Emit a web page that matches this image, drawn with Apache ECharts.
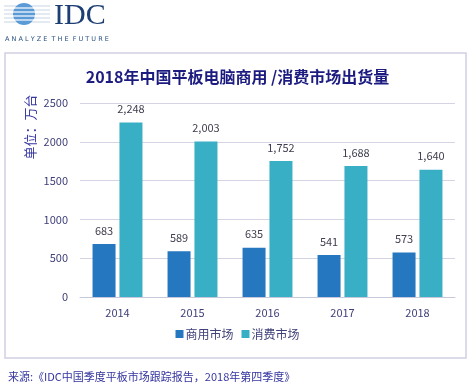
<!DOCTYPE html>
<html><head><meta charset="utf-8">
<script src="https://cdn.jsdelivr.net/npm/echarts@6/dist/echarts.min.js"></script>
<style>html,body{margin:0;padding:0;background:#fff}#c{width:475px;height:391px}</style>
</head><body><div id="c"></div>
<script>
const categories = ['2014', '2015', '2016', '2017', '2018'];
const commercial = [683, 589, 635, 541, 573];
const consumer = [2248, 2003, 1752, 1688, 1640];
const seriesNames = ['商用市场', '消费市场'];
const yTicks = [0, 500, 1000, 1500, 2000, 2500];

const chart = echarts.init(document.getElementById('c'));
const font = '"Noto Sans CJK SC", "Noto Sans", sans-serif';
const stripes = [];
[6, 10, 14, 18, 22].forEach(y => {
  stripes.push({type: 'line', shape: {x1: 4, y1: y, x2: 50, y2: y}, style: {stroke: '#c8d4e4', lineWidth: 1}});
});
chart.setOption({
  textStyle: {fontFamily: font},
  title: {text: '2018年中国平板电脑商用 /消费市场出货量', left: 'center', top: 64,
    textStyle: {fontSize: 16, fontWeight: 'bold', color: '#1c1c80', fontFamily: font}},
  graphic: [
    {type: 'rect', shape: {x: 5, y: 53, width: 461, height: 305}, style: {fill: 'none', stroke: '#cfcfe4', lineWidth: 1.5}, z: -1},
    ...stripes,
    {type: 'circle', shape: {cx: 24, cy: 14, r: 11}, style: {fill: '#5a9ad6'}},
    {type: 'line', shape: {x1: 12, y1: 8, x2: 36, y2: 8}, style: {stroke: '#ffffff', lineWidth: 1.2}},
    {type: 'line', shape: {x1: 13, y1: 12, x2: 35, y2: 12}, style: {stroke: '#ffffff', lineWidth: 1.2}},
    {type: 'line', shape: {x1: 13, y1: 16, x2: 35, y2: 16}, style: {stroke: '#ffffff', lineWidth: 1.2}},
    {type: 'line', shape: {x1: 14, y1: 20, x2: 34, y2: 20}, style: {stroke: '#ffffff', lineWidth: 1.2}},
    {type: 'text', left: 54, top: 1, style: {text: 'IDC', font: '30px "Liberation Serif", serif', fill: '#1d3f73'}},
    {type: 'text', left: 5, top: 36, style: {text: 'A N A L Y Z E  T H E  F U T U R E', font: '6.5px "DejaVu Sans", sans-serif', fill: '#27507f'}},
    {type: 'text', x: 30, y: 127, rotation: Math.PI / 2,
      style: {text: '单位：万台', font: '13px ' + font, fill: '#3535a0', align: 'center', verticalAlign: 'middle'}},
    {type: 'text', left: 8, top: 371, style: {text: '来源:《IDC中国季度平板市场跟踪报告，2018年第四季度》', font: '11px ' + font, fill: '#3535a0'}}
  ],
  legend: {data: seriesNames, bottom: 46, left: 'center', itemWidth: 8, itemHeight: 8, itemGap: 8, icon: 'rect',
    textStyle: {fontSize: 12, color: '#40407a', fontFamily: font, padding: [0, 0, 0, -3]}},
  grid: {left: 80, right: 20, top: 103, bottom: 94},
  xAxis: {type: 'category', data: categories,
    axisLine: {lineStyle: {color: '#c8c8dc'}}, axisTick: {show: false},
    axisLabel: {color: '#40407a', fontSize: 11, margin: 10}},
  yAxis: {type: 'value', min: yTicks[0], max: yTicks[yTicks.length - 1], interval: 500,
    axisLine: {show: false}, axisTick: {show: false},
    axisLabel: {color: '#40407a', fontSize: 11, margin: 12, formatter: v => String(v)},
    splitLine: {lineStyle: {color: '#d4d4e4'}}},
  series: [
    {name: seriesNames[0], type: 'bar', data: commercial, barWidth: 23, barGap: '17%',
      itemStyle: {color: '#2577c0'},
      label: {show: true, position: 'top', distance: 8, color: '#404050', fontSize: 11,
        formatter: p => p.value.toLocaleString('en-US')}},
    {name: seriesNames[1], type: 'bar', data: consumer, barWidth: 23,
      itemStyle: {color: '#39afc6'},
      label: {show: true, position: 'top', distance: 8, color: '#404050', fontSize: 11,
        formatter: p => p.value.toLocaleString('en-US')}}
  ]
});
</script></body></html>
